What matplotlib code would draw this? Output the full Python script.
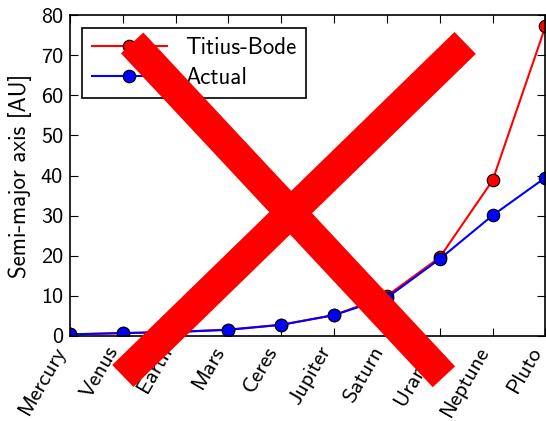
import matplotlib
matplotlib.use("Agg")
import matplotlib.pyplot as plt
from matplotlib.lines import Line2D

# planets and their semi-major axes in AU
planets = ["Mercury", "Venus", "Earth", "Mars", "Ceres",
           "Jupiter", "Saturn", "Uranus", "Neptune", "Pluto"]
titius_bode = [0.4, 0.7, 1.0, 1.6, 2.8, 5.2, 10.0, 19.6, 38.8, 77.2]
actual = [0.39, 0.72, 1.0, 1.52, 2.77, 5.20, 9.54, 19.2, 30.06, 39.5]

plt.rcParams["font.family"] = ["cmss10", "DejaVu Sans"]
plt.rcParams["axes.unicode_minus"] = False
plt.rcParams["font.size"] = 16

fig = plt.figure(figsize=(5.46, 4.21), dpi=100)
ax = fig.add_axes([0.128, 0.202, 0.871, 0.762])

x = range(len(planets))
ax.plot(x, titius_bode, "r-o", lw=1.5, ms=9, mec="k", mew=0.8, label="Titius-Bode")
ax.plot(x, actual, "b-o", lw=1.5, ms=9, mec="k", mew=0.8, label="Actual")

ax.set_xlim(0, len(planets) - 1)
ax.set_ylim(0, 80)
ax.set_xticks(list(x))
ax.set_yticks(range(0, 81, 10))
ax.set_xticklabels(planets, rotation=60, ha="right")
ax.set_ylabel("Semi-major axis [AU]", fontsize=16.5, labelpad=6)
ax.tick_params(direction="in", length=6, width=0.8, top=True, right=True, pad=5)
for s in ax.spines.values():
    s.set_linewidth(1.2)

leg = ax.legend(loc="upper left", numpoints=1, fancybox=False, framealpha=1,
                edgecolor="k", handlelength=3.3, borderaxespad=0.55,
                labelspacing=0.35, borderpad=0.4, fontsize=16.5)
leg.get_frame().set_linewidth(1.2)

# big red cross over the whole figure
for (x0, y0), (x1, y1) in [((0.242, 0.898), (0.813, 0.105)),
                           ((0.852, 0.898), (0.225, 0.107))]:
    fig.add_artist(Line2D([x0, x1], [y0, y1], transform=fig.transFigure,
                          color="red", lw=22, solid_capstyle="butt"))

fig.savefig("out.png", dpi=100)
